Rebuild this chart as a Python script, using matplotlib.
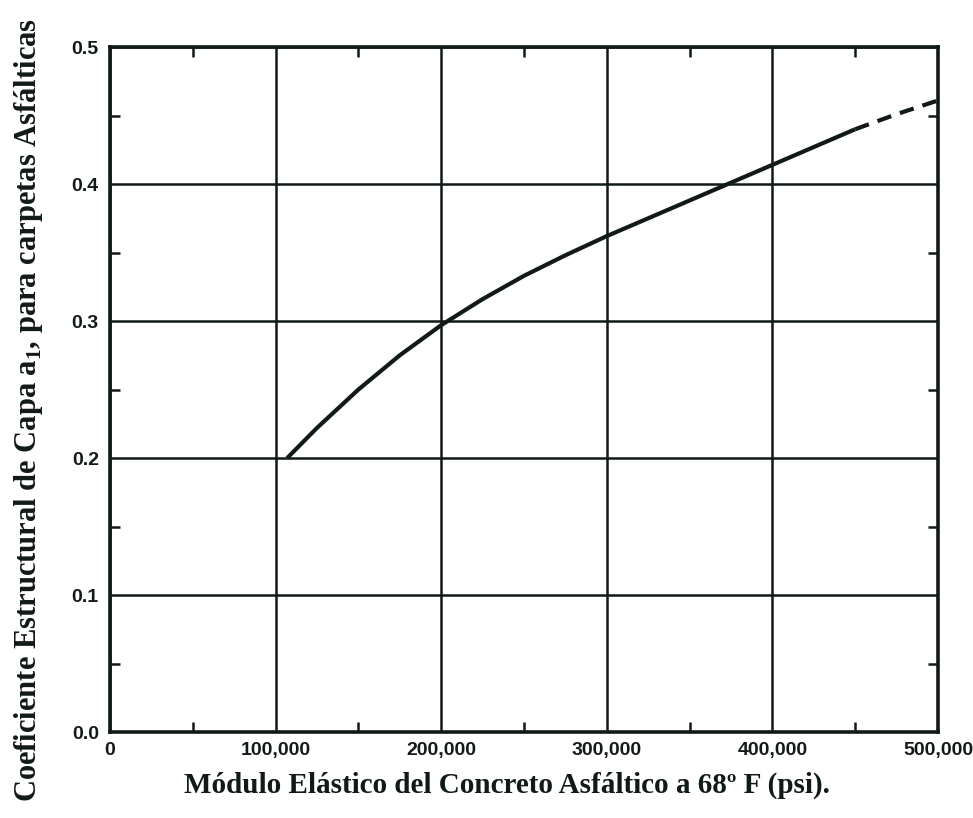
import numpy as np
import matplotlib.pyplot as plt
from matplotlib.ticker import MultipleLocator, FuncFormatter

# Curve (psi, a1)
modulo_solid = [107000, 125000, 150000, 175000, 200000, 225000, 250000, 275000,
                300000, 325000, 350000, 375000, 400000, 425000, 450000]
coef_solid = [0.200, 0.222, 0.250, 0.275, 0.297, 0.316, 0.333, 0.348,
              0.362, 0.375, 0.388, 0.401, 0.414, 0.427, 0.440]
modulo_dash = [450000, 475000, 500000]
coef_dash = [0.440, 0.451, 0.461]

x_ticks = [0, 100000, 200000, 300000, 400000, 500000]
y_ticks = [0.0, 0.1, 0.2, 0.3, 0.4, 0.5]

plt.rcParams['mathtext.fontset'] = 'custom'
plt.rcParams['mathtext.rm'] = 'Liberation Serif:bold'
plt.rcParams['mathtext.bf'] = 'Liberation Serif:bold'

ink = '#111a14'

fig = plt.figure(figsize=(9.73, 8.18), dpi=100)
ax = fig.add_axes([0.113, 0.105, 0.851, 0.8375])

ax.plot(modulo_solid, coef_solid, color=ink, lw=3.0, solid_capstyle='butt',
        solid_joinstyle='round', zorder=3)
ax.plot(modulo_dash, coef_dash, color=ink, lw=3.0, dashes=(3.5, 2.2), zorder=3)

ax.set_xlim(0, 500000)
ax.set_ylim(0, 0.5)
ax.set_xticks(x_ticks)
ax.set_yticks(y_ticks)
ax.xaxis.set_minor_locator(MultipleLocator(50000))
ax.yaxis.set_minor_locator(MultipleLocator(0.05))
ax.xaxis.set_major_formatter(FuncFormatter(lambda v, p: f'{int(v):,}'))
ax.yaxis.set_major_formatter(FuncFormatter(lambda v, p: f'{v:.1f}'))

ax.grid(True, which='major', color=ink, lw=1.8)
ax.tick_params(which='major', length=0, labelsize=14, colors=ink)
ax.tick_params(axis='x', which='major', pad=7)
ax.tick_params(axis='y', which='major', pad=8)
ax.tick_params(which='minor', direction='in', length=7, width=1.8, color=ink,
               top=True, right=True)
for lab in ax.get_xticklabels() + ax.get_yticklabels():
    lab.set_fontfamily('Liberation Sans')
    lab.set_fontweight('bold')
for s in ax.spines.values():
    s.set_linewidth(2.6)
    s.set_color(ink)

ax.set_xlabel('Módulo Elástico del Concreto Asfáltico a 68º F (psi).',
              fontfamily='Liberation Serif', fontweight='bold', fontsize=21,
              color=ink)
ax.set_ylabel(r'Coeficiente Estructural de Capa a$_1$, para carpetas Asfálticas',
              fontfamily='Liberation Serif', fontweight='bold', fontsize=22,
              color=ink)
ax.xaxis.set_label_coords(0.48, -0.058)
ax.yaxis.set_label_coords(-0.079, 0.47)

fig.savefig('out.png', dpi=100)
